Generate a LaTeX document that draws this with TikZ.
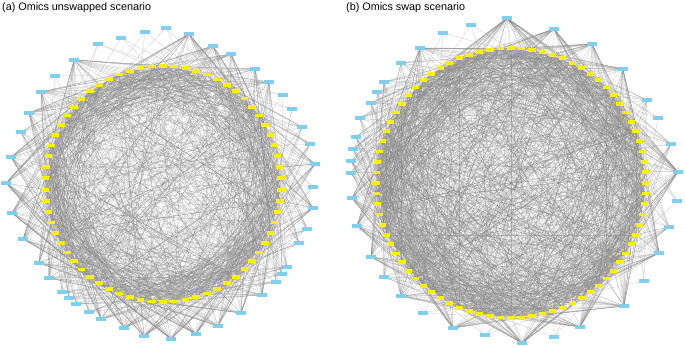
\documentclass[tikz,border=0pt]{standalone}
\usepackage{fontspec}
\setmainfont{Liberation Sans}
\usetikzlibrary{backgrounds}
\definecolor{omicblue}{HTML}{80CFEF}
\definecolor{omicyellow}{HTML}{FFF200}
\definecolor{linkgray}{HTML}{8A8A8A}
\tikzset{
  gene/.style={draw=none,fill=omicyellow,minimum width=7.5pt,minimum height=3.8pt,inner sep=0pt},
  omic/.style={draw=none,fill=omicblue,minimum width=9.5pt,minimum height=3.8pt,inner sep=0pt},
  link/.style={linkgray,line width=0.25pt,opacity=0.5},
  paneltitle/.style={anchor=west,inner sep=0pt,font=\fontsize{10.8}{13}\selectfont}
}
% outer nodes: x/y/number of links
\def\leftomics{166/28/2,145/32/2,121/38/2,98/44/3,189/34/24,213/46/22,231/54/22,74/60/26,
  55/76/3,255/69/20,269/82/20,41/92/22,283/95/3,292/109/3,29/113/22,21/132/10,302/127/10,
  310/144/10,11/157/22,315/164/20,6/183/24,313/187/3,12/213/22,313/208/20,307/229/10,
  23/239/22,299/243/10,287/267/10,282/274/10,39/263/20,49/278/20,276/282/10,62/292/10,
  69/298/10,76/304/10,262/295/20,89/312/10,241/313/20,101/319/20,218/326/20,124/328/22,
  196/334/22,144/336/22,171/339/24}
\def\rightomics{507/18/36,554/29/30,471/25/2,443/33/2,592/44/28,420/48/26,401/63/12,
  623/69/28,384/82/12,377/92/12,371/103/12,647/100/12,360/118/12,658/118/3,356/137/12,
  671/144/12,353/149/12,351/161/12,351/173/12,678/172/30,352/198/24,677/201/3,357/226/26,
  669/227/12,371/257/26,659/253/26,384/277/12,644/281/3,401/296/26,624/306/28,423/313/3,
  580/327/28,453/328/28,485/335/3,554/337/3,522/343/32}

\begin{document}
\begin{tikzpicture}[x=1pt,y=-1pt]
\pgfmathsetseed{11}
\useasboundingbox (0,0) rectangle (685,347);

\node[paneltitle] (ta) at (2,7.5) {(a) Omics unswapped scenario};
\node[paneltitle] (tb) at (346,7.5) {(b) Omics swap scenario};

% (a) unswapped
\foreach \i in {1,...,66}
  \node[gene] (ay\i) at ({163+118*cos(-90+(\i-1)/66*360)},{184+118*sin(-90+(\i-1)/66*360)}) {};
\foreach \x/\y/\n [count=\k] in \leftomics
  \node[omic] (ab\k) at (\x,\y) {};

% (b) swap
\foreach \i in {1,...,80}
  \node[gene] (by\i) at ({511+135*cos(-90+(\i-1)/80*360)},{183+135*sin(-90+(\i-1)/80*360)}) {};
\foreach \x/\y/\n [count=\k] in \rightomics
  \node[omic] (bb\k) at (\x,\y) {};

\begin{pgfonlayer}{background}
% links (a)
\foreach \e in {1,...,560}{
  \pgfmathtruncatemacro\p{mod(mod(\e,66)*23,66)+1}
  \pgfmathrandominteger{\d}{7}{58}
  \pgfmathtruncatemacro\q{mod(\p+\d,66)+1}
  \draw[link] (ay\p.center) -- (ay\q.center);
}
\foreach \x/\y/\n [count=\k] in \leftomics{
  \pgfmathtruncatemacro\base{round((atan2(\y-184,\x-163)+90)/360*66)}
  \pgfmathtruncatemacro\m{\n*1.5}
  \foreach \j in {1,...,\m}{
    \pgfmathrandominteger{\jit}{-2}{2}
    \pgfmathrandominteger{\far}{1}{66}
    \pgfmathtruncatemacro\t{mod(\j,4)==0 ? \far : mod(\base+round(19*(2*\j-\m-1)/\m)+\jit+132,66)+1}
    \draw[link] (ab\k.center) -- (ay\t.center);
  }
}
% links (b)
\foreach \e in {1,...,1000}{
  \pgfmathtruncatemacro\p{mod(mod(\e,80)*29,80)+1}
  \pgfmathrandominteger{\d}{8}{71}
  \pgfmathtruncatemacro\q{mod(\p+\d,80)+1}
  \draw[link] (by\p.center) -- (by\q.center);
}
\foreach \x/\y/\n [count=\k] in \rightomics{
  \pgfmathtruncatemacro\base{round((atan2(\y-183,\x-511)+90)/360*80)}
  \pgfmathtruncatemacro\m{\n*1.5}
  \foreach \j in {1,...,\m}{
    \pgfmathrandominteger{\jit}{-2}{2}
    \pgfmathrandominteger{\far}{1}{80}
    \pgfmathtruncatemacro\t{mod(\j,4)==0 ? \far : mod(\base+round(23*(2*\j-\m-1)/\m)+\jit+160,80)+1}
    \draw[link] (bb\k.center) -- (by\t.center);
  }
}
\end{pgfonlayer}
\end{tikzpicture}
\end{document}
